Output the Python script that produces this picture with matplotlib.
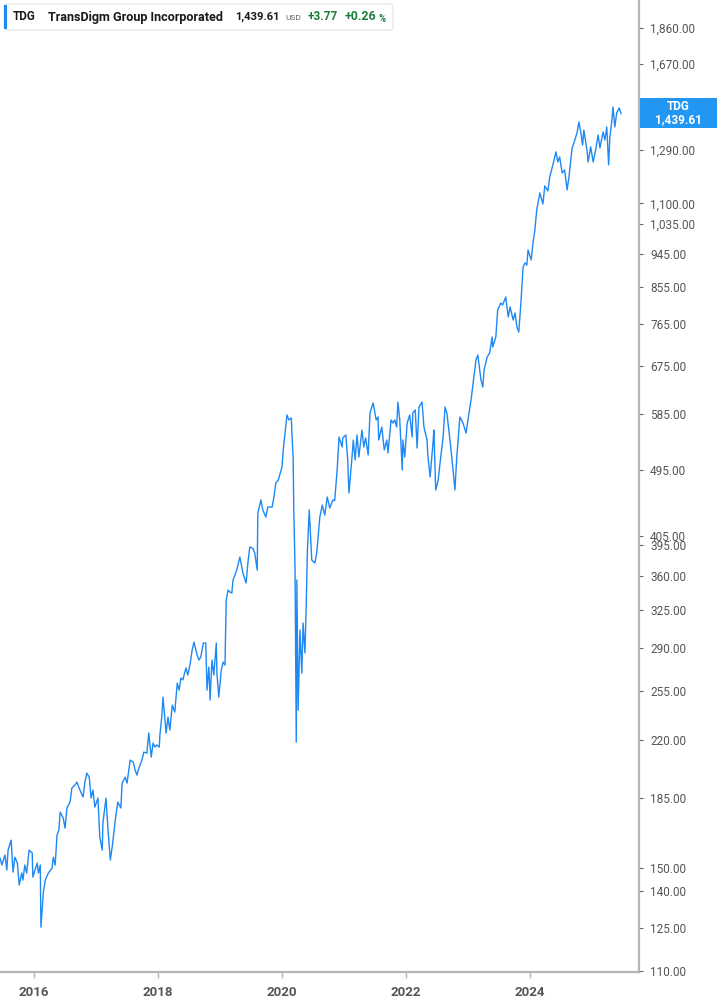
import matplotlib
matplotlib.use("Agg")
import matplotlib.pyplot as plt
from matplotlib.patches import FancyBboxPatch, Rectangle
from matplotlib.ticker import FixedLocator, NullLocator

# ---- data ----
years = [
    2015.45, 2015.48, 2015.53, 2015.56, 2015.58, 2015.63, 2015.66, 2015.69, 2015.73, 2015.76,
    2015.80, 2015.82, 2015.85, 2015.88, 2015.92, 2015.97, 2015.98, 2016.05, 2016.07, 2016.10,
    2016.11, 2016.15, 2016.18, 2016.23, 2016.29, 2016.31, 2016.34, 2016.37, 2016.40, 2016.42,
    2016.47, 2016.50, 2016.53, 2016.58, 2016.61, 2016.66, 2016.69, 2016.74, 2016.79, 2016.82,
    2016.85, 2016.89, 2016.92, 2016.95, 2016.98, 2017.03, 2017.06, 2017.10, 2017.11, 2017.16,
    2017.19, 2017.23, 2017.26, 2017.31, 2017.35, 2017.40, 2017.42, 2017.47, 2017.50, 2017.55,
    2017.60, 2017.63, 2017.66, 2017.69, 2017.74, 2017.77, 2017.82, 2017.85, 2017.89, 2017.92,
    2017.95, 2017.98, 2018.02, 2018.03, 2018.06, 2018.08, 2018.13, 2018.16, 2018.19, 2018.23,
    2018.27, 2018.31, 2018.34, 2018.37, 2018.40, 2018.45, 2018.48, 2018.52, 2018.55, 2018.58,
    2018.63, 2018.66, 2018.69, 2018.73, 2018.77, 2018.79, 2018.82, 2018.84, 2018.87, 2018.90,
    2018.94, 2018.95, 2018.98, 2019.02, 2019.05, 2019.08, 2019.10, 2019.13, 2019.16, 2019.19,
    2019.21, 2019.27, 2019.32, 2019.37, 2019.42, 2019.45, 2019.48, 2019.53, 2019.56, 2019.60,
    2019.61, 2019.66, 2019.69, 2019.74, 2019.77, 2019.84, 2019.87, 2019.90, 2019.94, 2020.00,
    2020.02, 2020.07, 2020.08, 2020.11, 2020.15, 2020.16, 2020.18, 2020.19, 2020.21, 2020.23,
    2020.24, 2020.26, 2020.29, 2020.32, 2020.34, 2020.37, 2020.39, 2020.41, 2020.44, 2020.48,
    2020.53, 2020.56, 2020.61, 2020.65, 2020.69, 2020.73, 2020.77, 2020.82, 2020.85, 2020.89,
    2020.92, 2020.97, 2020.98, 2021.03, 2021.06, 2021.08, 2021.13, 2021.15, 2021.18, 2021.21,
    2021.24, 2021.29, 2021.32, 2021.35, 2021.39, 2021.42, 2021.47, 2021.52, 2021.55, 2021.56,
    2021.61, 2021.65, 2021.69, 2021.71, 2021.76, 2021.79, 2021.82, 2021.85, 2021.87, 2021.90,
    2021.94, 2021.95, 2021.98, 2022.02, 2022.06, 2022.10, 2022.11, 2022.15, 2022.18, 2022.21,
    2022.26, 2022.29, 2022.34, 2022.35, 2022.39, 2022.44, 2022.45, 2022.48, 2022.52, 2022.55,
    2022.60, 2022.63, 2022.66, 2022.71, 2022.76, 2022.79, 2022.82, 2022.87, 2022.92, 2022.97,
    2023.00, 2023.05, 2023.08, 2023.13, 2023.16, 2023.21, 2023.24, 2023.26, 2023.31, 2023.35,
    2023.39, 2023.40, 2023.45, 2023.48, 2023.53, 2023.56, 2023.61, 2023.65, 2023.68, 2023.73,
    2023.76, 2023.79, 2023.82, 2023.85, 2023.89, 2023.92, 2023.95, 2023.97, 2024.02, 2024.05,
    2024.08, 2024.11, 2024.16, 2024.21, 2024.24, 2024.29, 2024.32, 2024.37, 2024.42, 2024.45,
    2024.48, 2024.52, 2024.56, 2024.60, 2024.63, 2024.68, 2024.69, 2024.76, 2024.79, 2024.82,
    2024.85, 2024.87, 2024.92, 2024.94, 2024.98, 2025.02, 2025.06, 2025.10, 2025.13, 2025.18,
    2025.21, 2025.24, 2025.27, 2025.29, 2025.32, 2025.34, 2025.37, 2025.40, 2025.44, 2025.47,
]
prices = [
    154.4, 151.2, 155.8, 148.9, 158.1, 162.9, 148.0, 154.8, 152.1, 142.4,
    147.6, 144.5, 151.2, 147.6, 158.1, 156.7, 145.8, 152.1, 147.6, 151.2,
    125.5, 139.4, 144.5, 147.6, 149.8, 154.8, 151.2, 165.4, 167.9, 177.2,
    174.1, 168.9, 179.4, 182.6, 190.5, 192.2, 193.9, 189.3, 185.4, 193.9,
    199.2, 196.8, 184.8, 189.3, 179.9, 184.8, 164.4, 158.1, 171.4, 184.8,
    169.4, 153.5, 159.6, 173.0, 182.6, 179.4, 193.3, 196.8, 193.3, 207.1,
    205.9, 201.0, 198.0, 202.2, 207.1, 212.1, 211.5, 224.6, 209.0, 217.9,
    215.4, 216.7, 215.4, 223.3, 235.6, 250.2, 224.6, 235.6, 226.6, 244.3,
    239.2, 260.9, 255.5, 264.9, 263.5, 273.0, 267.3, 277.0, 288.1, 295.1,
    283.8, 279.6, 282.1, 294.2, 294.2, 255.5, 273.8, 248.0, 279.6, 267.3,
    294.2, 268.8, 250.2, 271.3, 277.9, 275.4, 334.7, 344.9, 342.8, 341.8,
    355.4, 366.2, 380.8, 362.9, 352.2, 373.9, 392.4, 391.0, 385.3, 366.2,
    434.5, 451.8, 438.5, 429.3, 442.4, 442.4, 455.9, 475.4, 479.8, 498.8,
    525.0, 574.4, 583.0, 574.4, 577.8, 552.3, 512.5, 438.5, 369.6, 218.6,
    355.4, 240.6, 305.9, 268.8, 312.4, 285.5, 327.8, 388.9, 438.5, 377.4,
    373.9, 385.3, 429.3, 445.0, 431.9, 455.9, 441.1, 451.8, 451.0, 494.4,
    545.8, 529.7, 544.2, 549.1, 509.4, 461.4, 514.0, 540.9, 509.4, 549.1,
    514.0, 557.4, 529.7, 544.2, 517.1, 586.5, 604.4, 574.4, 579.5, 540.9,
    562.4, 525.0, 540.9, 520.3, 574.4, 569.2, 574.4, 562.4, 606.1, 574.4,
    494.4, 540.9, 514.0, 569.2, 583.0, 545.8, 586.5, 591.9, 528.1, 597.2,
    606.1, 562.4, 540.9, 520.3, 484.1, 540.9, 557.4, 465.6, 479.8, 504.8,
    545.8, 597.2, 586.5, 540.9, 494.4, 465.6, 514.0, 579.5, 569.2, 552.3,
    574.4, 609.9, 637.9, 687.6, 698.0, 647.6, 634.1, 667.3, 693.8, 702.2,
    736.7, 714.9, 736.7, 798.9, 815.7, 810.9, 830.6, 782.3, 806.1, 775.3,
    791.6, 759.1, 747.7, 806.1, 908.9, 919.8, 914.2, 956.4, 928.2, 976.6,
    1015.5, 1078.3, 1134.6, 1097.9, 1158.8, 1141.6, 1190.5, 1234.1, 1283.4, 1245.0,
    1264.1, 1204.8, 1215.8, 1145.0, 1190.5, 1298.7, 1303.0, 1358.4, 1404.0, 1362.6,
    1310.4, 1370.8, 1291.0, 1245.0, 1303.0, 1245.0, 1291.0, 1350.3, 1298.7, 1362.6,
    1330.3, 1383.2, 1234.1, 1342.3, 1404.0, 1468.7, 1383.2, 1442.3, 1464.3, 1439.61,
]
y_ticks = [110, 125, 140, 150, 185, 220, 255, 290, 325, 360, 395, 405, 495,
           585, 675, 765, 855, 945, 1035, 1100, 1290, 1480, 1670, 1860]
x_ticks = [2016, 2018, 2020, 2022, 2024]
ticker = "TDG"
company = "TransDigm Group Incorporated"
last_price = 1439.61
change = 3.77
change_pct = 0.26

# ---- figure ----
W, H = 717, 1005
fig = plt.figure(figsize=(W / 100, H / 100), dpi=100)
ax = fig.add_axes([0, 1 - 972 / H, 639 / W, 972 / H])

line_color = "#1e88f5"
ax.plot(years, prices, color=line_color, lw=1.0, solid_joinstyle="round")

ax.set_yscale("log")
ax.set_ylim(109.7, 2024)
ax.set_xlim(2015.45, 2025.76)

grey = "#b5b5b5"
for s in ("left", "top"):
    ax.spines[s].set_visible(False)
for s in ("right", "bottom"):
    ax.spines[s].set_color(grey)
    ax.spines[s].set_linewidth(1.6)

ax.yaxis.tick_right()
ax.yaxis.set_major_locator(FixedLocator(y_ticks))
ax.yaxis.set_minor_locator(NullLocator())
ax.set_yticklabels([f"{v:,.2f}" for v in y_ticks])
ax.tick_params(axis="y", which="major", direction="out", length=3, width=0.8,
               color="#666666", labelsize=8.5, labelcolor="#555555", pad=5)
for lab in ax.get_yticklabels():
    lab.set_fontfamily("Roboto")

ax.xaxis.set_major_locator(FixedLocator(x_ticks))
ax.set_xticklabels([str(v) for v in x_ticks])
ax.tick_params(axis="x", direction="out", length=4, width=1.0, color=grey,
               labelsize=9.5, labelcolor="#555555", pad=6)
for lab in ax.get_xticklabels():
    lab.set_fontfamily("Roboto")
    lab.set_fontweight("bold")

def fy(py):
    return 1 - py / H

def fx(px):
    return px / W

# ---- last-price badge ----
badge = Rectangle((fx(640), fy(128)), fx(717) - fx(640), fy(98) - fy(128),
                  transform=fig.transFigure, facecolor="#2196f3", edgecolor="none",
                  zorder=5)
fig.add_artist(badge)
fig.text(fx(678), fy(106.5), ticker, color="white", fontsize=8.5, fontweight="bold",
         ha="center", va="center", family="Roboto", zorder=6)
fig.text(fx(678), fy(119.5), f"{last_price:,.2f}", color="white", fontsize=8.5,
         fontweight="bold", ha="center", va="center", family="Roboto", zorder=6)

# ---- header box ----
hdr = FancyBboxPatch((fx(4), fy(30)), fx(393) - fx(4), fy(4) - fy(30),
                     boxstyle="round,pad=0,rounding_size=0.004",
                     transform=fig.transFigure, facecolor="white",
                     edgecolor="#e4e4e4", linewidth=0.8, zorder=5)
fig.add_artist(hdr)
fig.add_artist(Rectangle((fx(4), fy(29)), fx(7) - fx(4), fy(5) - fy(29),
                         transform=fig.transFigure, facecolor="#1e88f5",
                         edgecolor="none", zorder=6))

renderer = fig.canvas.get_renderer()

def fit_text(x0, x1, y, s, size, **kw):
    """Place text starting at pixel x0 and shrink/grow it so it ends near pixel x1."""
    t = fig.text(fx(x0), fy(y), s, fontsize=size, va="center", ha="left", zorder=7, **kw)
    w = t.get_window_extent(renderer).width
    if w > 0:
        t.set_fontsize(size * (x1 - x0) / w)
    return t

ty = 17
bold = dict(family="Roboto", fontweight="bold")
fit_text(13, 36, ty, ticker, 9.5, color="#1a1a1a", **bold)
fit_text(48, 225, ty, company, 9.5, color="#1a1a1a", **bold)
fit_text(235, 280, ty, f"{last_price:,.2f}", 9.5, color="#1a1a1a", **bold)
fit_text(285, 301, 18.5, "USD", 5.5, color="#666666", family="Roboto")
fit_text(308, 338, ty, f"+{change:.2f}", 9.5, color="#1b7d3a", **bold)
fit_text(345, 377, ty, f"+{change_pct:.2f}", 9.5, color="#1b7d3a", **bold)
fit_text(378, 385, 18.5, "%", 6, color="#1b7d3a", **bold)

fig.savefig("out.png", dpi=100)
